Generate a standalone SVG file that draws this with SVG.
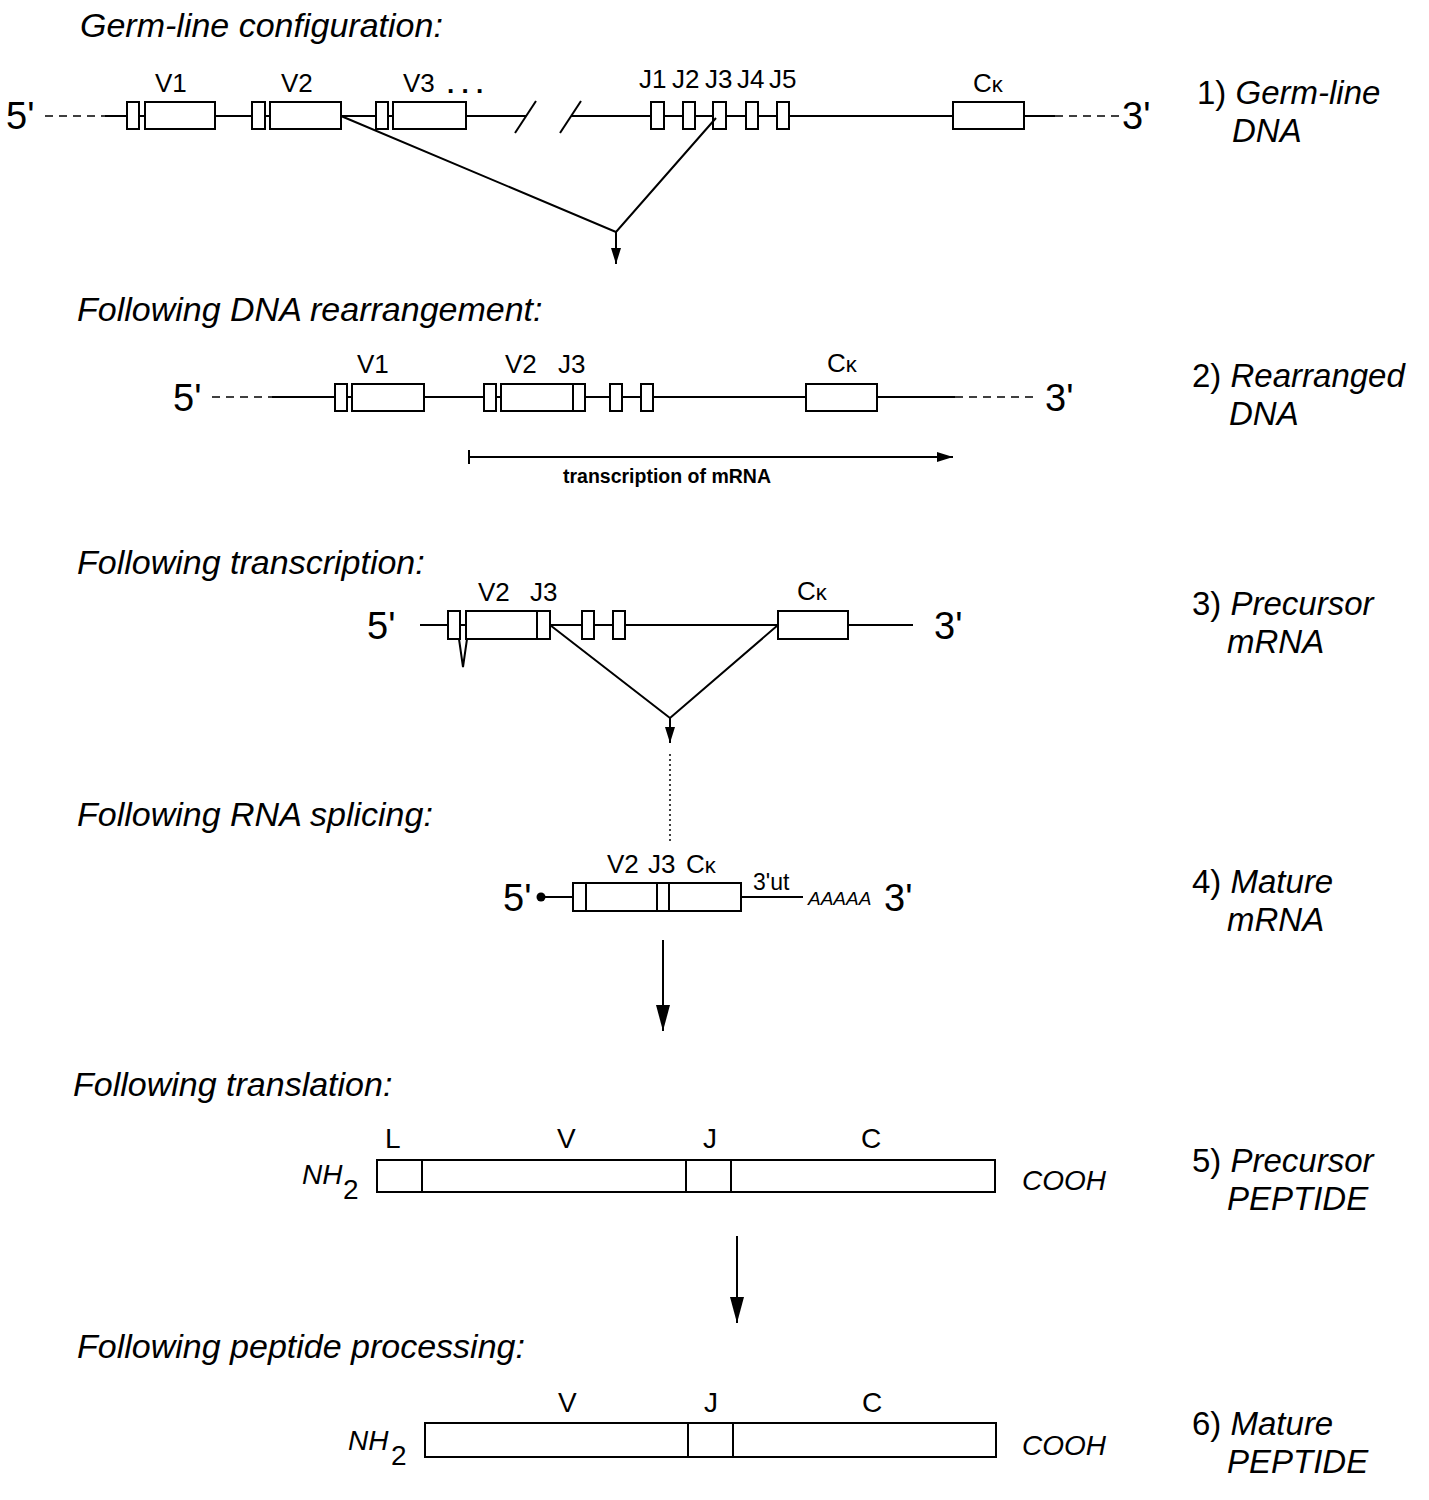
<svg xmlns="http://www.w3.org/2000/svg" width="1429" height="1500" viewBox="0 0 1429 1500">
<style>
text{font-family:"Liberation Sans",Arial,sans-serif;fill:#000}
.h{font-size:34px;font-style:italic}
.r{font-size:33px}
.g{font-size:26px}
.e{font-size:38px}
.sm{font-size:19.5px;font-weight:bold}
.p{font-family:"Liberation Sans Narrow","Liberation Sans",Arial,sans-serif;font-size:28px}
.pi{font-family:"Liberation Sans Narrow","Liberation Sans",Arial,sans-serif;font-size:28px;font-style:italic}
.ln{stroke:#000;stroke-width:2;fill:none}
.dash{stroke:#000;stroke-width:1.6;fill:none;stroke-dasharray:8 6}
.bx{stroke:#000;stroke-width:2;fill:#fff}
</style>
<defs>
<marker id="ahL" viewBox="0 0 26 14" refX="26" refY="7" markerWidth="26" markerHeight="14" markerUnits="userSpaceOnUse" orient="auto">
<path d="M0,0 L26,7 L0,14 z" fill="#000"/>
</marker>
<marker id="ahS" viewBox="0 0 16 10" refX="16" refY="5" markerWidth="16" markerHeight="10" markerUnits="userSpaceOnUse" orient="auto">
<path d="M0,0 L16,5 L0,10 z" fill="#000"/>
</marker>
</defs>

<!-- Headings -->
<g id="headings">
<text class="h" x="80" y="37">Germ-line configuration:</text>
<text class="h" x="77" y="321">Following DNA rearrangement:</text>
<text class="h" x="77" y="574">Following transcription:</text>
<text class="h" x="77" y="826">Following RNA splicing:</text>
<text class="h" x="73" y="1096">Following translation:</text>
<text class="h" x="77" y="1358">Following peptide processing:</text>
</g>

<!-- Right labels -->
<g id="stage1"><text class="r" x="1197" y="104">1) <tspan font-style="italic">Germ-line</tspan></text><text class="r" x="1232" y="142" font-style="italic">DNA</text></g>
<g id="stage2"><text class="r" x="1192" y="387">2) <tspan font-style="italic">Rearranged</tspan></text><text class="r" x="1229" y="425" font-style="italic">DNA</text></g>
<g id="stage3"><text class="r" x="1192" y="615">3) <tspan font-style="italic">Precursor</tspan></text><text class="r" x="1227" y="653" font-style="italic">mRNA</text></g>
<g id="stage4"><text class="r" x="1192" y="893">4) <tspan font-style="italic">Mature</tspan></text><text class="r" x="1227" y="931" font-style="italic">mRNA</text></g>
<g id="stage5"><text class="r" x="1192" y="1172">5) <tspan font-style="italic">Precursor</tspan></text><text class="r" x="1227" y="1210" font-style="italic">PEPTIDE</text></g>
<g id="stage6"><text class="r" x="1192" y="1435">6) <tspan font-style="italic">Mature</tspan></text><text class="r" x="1227" y="1473" font-style="italic">PEPTIDE</text></g>

<!-- Row 1: germ-line DNA -->
<g id="germline">
<text class="e" x="6" y="129">5'</text>
<line class="dash" x1="45" y1="116" x2="105" y2="116"/>
<line class="ln" x1="105" y1="116" x2="526" y2="116"/>
<line class="ln" x1="515" y1="133" x2="536" y2="101"/>
<line class="ln" x1="560" y1="133" x2="581" y2="101"/>
<line class="ln" x1="571" y1="116" x2="1055" y2="116"/>
<line class="dash" x1="1055" y1="116" x2="1120" y2="116"/>
<text class="e" x="1122" y="129">3'</text>
<rect class="bx" x="127" y="102" width="12" height="27"/>
<rect class="bx" x="145" y="102" width="70" height="27"/>
<rect class="bx" x="252" y="102" width="13" height="27"/>
<rect class="bx" x="270" y="102" width="71" height="27"/>
<rect class="bx" x="376" y="102" width="12" height="27"/>
<rect class="bx" x="393" y="102" width="73" height="27"/>
<rect class="bx" x="651" y="102" width="13" height="27"/>
<rect class="bx" x="683" y="102" width="12" height="27"/>
<rect class="bx" x="713" y="102" width="13" height="27"/>
<rect class="bx" x="746" y="102" width="12" height="27"/>
<rect class="bx" x="777" y="102" width="12" height="27"/>
<rect class="bx" x="953" y="102" width="71" height="27"/>
<text class="g" x="155" y="92">V1</text>
<text class="g" x="281" y="92">V2</text>
<text class="g" x="403" y="92">V3</text>
<text class="g" x="447" y="93" font-weight="bold">. . .</text>
<text class="g" x="639" y="88">J1</text>
<text class="g" x="672" y="88">J2</text>
<text class="g" x="705" y="88">J3</text>
<text class="g" x="737" y="88">J4</text>
<text class="g" x="769" y="88">J5</text>
<text class="g" x="973" y="92">C<tspan font-size="22">κ</tspan></text>
</g>

<!-- Row 2: rearranged DNA -->
<g id="rearranged">
<text class="e" x="173" y="411">5'</text>
<line class="dash" x1="212" y1="397" x2="272" y2="397"/>
<line class="ln" x1="272" y1="397" x2="955" y2="397"/>
<line class="dash" x1="955" y1="397" x2="1035" y2="397"/>
<text class="e" x="1045" y="411">3'</text>
<rect class="bx" x="335" y="384" width="12" height="27"/>
<rect class="bx" x="352" y="384" width="72" height="27"/>
<rect class="bx" x="484" y="384" width="12" height="27"/>
<rect class="bx" x="501" y="384" width="72" height="27"/>
<rect class="bx" x="573" y="384" width="12" height="27"/>
<rect class="bx" x="610" y="384" width="12" height="27"/>
<rect class="bx" x="641" y="384" width="12" height="27"/>
<rect class="bx" x="806" y="384" width="71" height="27"/>
<text class="g" x="357" y="373">V1</text>
<text class="g" x="505" y="373">V2</text>
<text class="g" x="558" y="373">J3</text>
<text class="g" x="827" y="372">C<tspan font-size="22">κ</tspan></text>
</g>

<!-- Row 3: precursor mRNA -->
<g id="precursor-mrna">
<text class="e" x="367" y="639">5'</text>
<line class="ln" x1="420" y1="625" x2="913" y2="625"/>
<text class="e" x="934" y="639">3'</text>
<rect class="bx" x="448" y="611" width="12" height="28"/>
<rect class="bx" x="466" y="611" width="71" height="28"/>
<rect class="bx" x="537" y="611" width="13" height="28"/>
<rect class="bx" x="582" y="611" width="12" height="28"/>
<rect class="bx" x="613" y="611" width="12" height="28"/>
<rect class="bx" x="778" y="611" width="70" height="28"/>
<text class="g" x="478" y="601">V2</text>
<text class="g" x="530" y="601">J3</text>
<text class="g" x="797" y="600">C<tspan font-size="22">κ</tspan></text>
</g>

<!-- Row 4: mature mRNA -->
<g id="mature-mrna">
<text class="e" x="503" y="911">5'</text>
<circle cx="541" cy="897" r="4.5" fill="#000"/>
<line class="ln" x1="541" y1="897" x2="803" y2="897"/>
<rect class="bx" x="573" y="883" width="168" height="28"/>
<line class="ln" x1="586" y1="883" x2="586" y2="911"/>
<line class="ln" x1="657" y1="883" x2="657" y2="911"/>
<line class="ln" x1="669" y1="883" x2="669" y2="911"/>
<text class="g" x="607" y="873">V2</text>
<text class="g" x="648" y="873">J3</text>
<text class="g" x="686" y="873">C<tspan font-size="22">κ</tspan></text>
<text x="753" y="890" font-size="23">3'ut</text>
<text x="808" y="905" font-size="19" font-style="italic">AAAAA</text>
<text class="e" x="884" y="911">3'</text>
</g>

<!-- Row 5: precursor peptide -->
<g id="precursor-peptide">
<rect class="bx" x="377" y="1160" width="618" height="32"/>
<line class="ln" x1="422" y1="1160" x2="422" y2="1192"/>
<line class="ln" x1="686" y1="1160" x2="686" y2="1192"/>
<line class="ln" x1="731" y1="1160" x2="731" y2="1192"/>
<text class="p" x="385" y="1148">L</text>
<text class="p" x="557" y="1148">V</text>
<text class="p" x="703" y="1148">J</text>
<text class="p" x="861" y="1148">C</text>
<text class="pi" x="302" y="1184">NH</text>
<text class="p" x="343" y="1199">2</text>
<text class="pi" x="1022" y="1190">COOH</text>
</g>

<!-- Row 6: mature peptide -->
<g id="mature-peptide">
<rect class="bx" x="425" y="1423" width="571" height="34"/>
<line class="ln" x1="688" y1="1423" x2="688" y2="1457"/>
<line class="ln" x1="733" y1="1423" x2="733" y2="1457"/>
<text class="p" x="558" y="1412">V</text>
<text class="p" x="704" y="1412">J</text>
<text class="p" x="862" y="1412">C</text>
<text class="pi" x="348" y="1450">NH</text>
<text class="p" x="391" y="1465">2</text>
<text class="pi" x="1022" y="1455">COOH</text>
</g>

<!-- Connectors -->
<g id="connectors">
<polyline class="ln" points="341,116 616,232 716,118"/>
<line class="ln" x1="616" y1="232" x2="616" y2="264" marker-end="url(#ahS)"/>
<line class="ln" x1="469" y1="450" x2="469" y2="464"/>
<line class="ln" x1="469" y1="457" x2="953" y2="457" marker-end="url(#ahS)"/>
<text class="sm" x="563" y="483">transcription of mRNA</text>
<polyline class="ln" points="459,639 463,667 467,639"/>
<polyline class="ln" points="550,625 670,718 778,625"/>
<line class="ln" x1="670" y1="718" x2="670" y2="743" marker-end="url(#ahS)"/>
<line x1="670" y1="754" x2="670" y2="842" stroke="#000" stroke-width="1.5" stroke-dasharray="2 3"/>
<line class="ln" x1="663" y1="940" x2="663" y2="1031" marker-end="url(#ahL)"/>
<line class="ln" x1="737" y1="1236" x2="737" y2="1323" marker-end="url(#ahL)"/>
</g>
</svg>
